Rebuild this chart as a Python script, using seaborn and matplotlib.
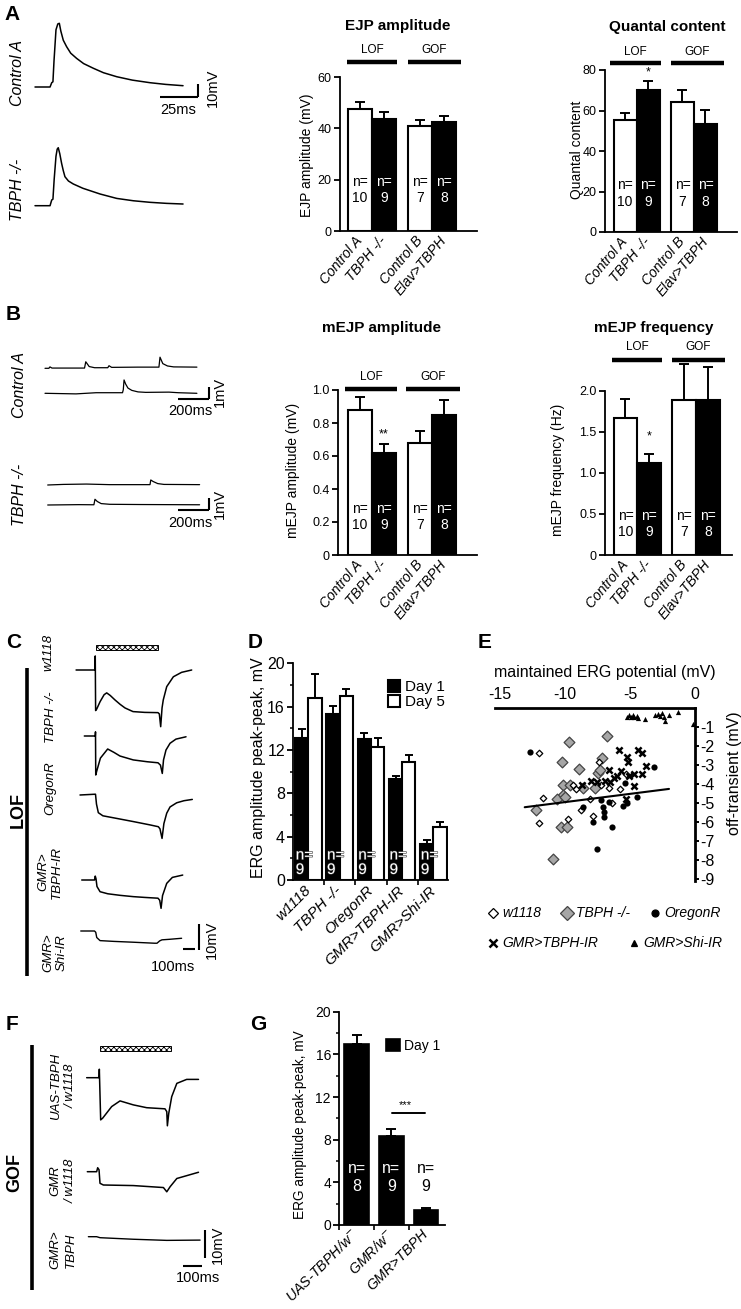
import numpy as np
import pandas as pd
import matplotlib.pyplot as plt
from matplotlib.lines import Line2D
from matplotlib.patches import Rectangle
from matplotlib.ticker import MultipleLocator
import matplotlib.patheffects as pe
import seaborn as sns

W, H = 741, 1309

# ---------------- A: evoked EJP traces (ms, mV) ----------------
ejp_ctrl_t = [0, 9.9, 11, 11.8, 12.5, 13.8, 15, 16, 17, 18.6, 20.8, 23.5, 27.4, 32, 38.4, 45, 53.8, 64, 75.7, 86, 97.4]
ejp_ctrl_v = [0, 0, 3.3, 4, 20, 44, 48.5, 49, 43, 36, 31, 26, 22, 18, 14.4, 11, 7.9, 5.3, 3.3, 2, 1]
ejp_tbph_t = [0, 9.9, 11, 11.8, 12.6, 13.8, 14.6, 15.3, 16.3, 17.5, 18.6, 19.7, 22, 25.2, 31.5, 42.8, 53.8, 64.7, 75.7, 86.5, 97.4]
ejp_tbph_v = [0, 0, 4.4, 5, 20, 38, 43.5, 44.6, 40, 32.6, 27, 22.3, 19, 16.7, 13.4, 9, 5.6, 3.8, 2.6, 1.8, 1.3]

# ---------------- B: spontaneous mEJP traces (ms, mV) ----------------
mejp_ctrl1_t = [0, 25, 32, 45, 255, 263, 285, 320, 405, 413, 430, 600, 735, 742, 760, 790, 830, 980]
mejp_ctrl1_v = [0, 0, 0.12, 0.02, 0.02, 0.56, 0.15, 0.05, 0.05, 0.22, 0.08, 0.1, 0.1, 0.95, 0.4, 0.2, 0.12, 0.1]
mejp_ctrl2_t = [0, 200, 330, 500, 505, 510, 520, 535, 560, 600, 650, 800, 860, 980]
mejp_ctrl2_v = [0, -0.05, 0.05, 0.05, 0.3, 1.14, 0.8, 0.45, 0.25, 0.12, 0.08, 0.1, 0.05, 0]
mejp_tbph1_t = [0, 100, 250, 400, 660, 665, 680, 710, 750, 980]
mejp_tbph1_v = [0, 0.05, 0.08, 0.03, 0.03, 0.43, 0.3, 0.12, 0.05, 0.03]
mejp_tbph2_t = [0, 200, 298, 305, 320, 345, 400, 600, 980]
mejp_tbph2_v = [0, 0.03, 0.02, 0.49, 0.3, 0.12, 0.06, 0.04, 0.02]

# ---------------- A/B bar charts ----------------
genotypes_ab = ["Control A", "TBPH -/-", "Control B", "Elav>TBPH"]
kind_ab = ["ctl", "mut", "ctl", "mut"]
n_ab = [10, 9, 7, 8]
ejp_amp = [47.5, 43.5, 41.0, 42.5]
ejp_sem = [2.8, 2.8, 2.2, 2.5]
quantal = [55.5, 70.0, 64.2, 53.2]
quantal_sem = [3.5, 4.6, 5.8, 7.2]
mejp_amp = [0.88, 0.62, 0.68, 0.85]
mejp_amp_sem = [0.08, 0.05, 0.07, 0.09]
mejp_freq = [1.67, 1.12, 1.89, 1.89]
mejp_freq_sem = [0.23, 0.11, 0.44, 0.40]

# ---------------- C: ERG traces, LOF (ms from light on, mV) ----------------
erg_w1118_t = [-158, -4, -2, 1, 10, 37, 70, 91, 120, 158, 200, 240, 305, 400, 508, 519, 530, 541, 551, 579, 633, 700, 782]
erg_w1118_v = [0, 0, 5.4, -15.6, -15.0, -12.2, -9.5, -8.8, -9.8, -11.5, -13.2, -14.6, -16.0, -16.3, -16.4, -16.9, -21.8, -14.6, -11.5, -6.4, -2.6, -0.9, 0]
erg_tbph_t = [-91, -2, 0, 2, 10, 40, 99, 150, 199, 307, 420, 508, 528, 543, 553, 573, 606, 654, 736]
erg_tbph_v = [0, 0, 1.6, -15.0, -13.5, -8.5, -5.0, -6.3, -7.7, -9.2, -9.9, -10.3, -11.2, -14.4, -9.2, -5.4, -2.8, -1.2, -0.3]
erg_oregon_t = [-126, -4, 0, 8, 23, 60, 172, 305, 443, 511, 524, 541, 556, 579, 606, 660, 719, 787]
erg_oregon_v = [0, 0.3, 0.3, -3.5, -6.8, -8.0, -9.0, -10.2, -11.5, -12.2, -13.0, -16.7, -11.0, -7.0, -4.6, -3.0, -2.2, -1.7]
erg_tbphir_t = [-112, -8, -2, 4, 12, 37, 100, 200, 307, 400, 508, 522, 533, 545, 579, 625, 709]
erg_tbphir_v = [0, 0, 1.5, 0.5, -2.5, -4.5, -5.3, -5.9, -6.4, -6.7, -7.0, -7.8, -10.9, -6.0, -1.3, 1.0, 1.9]
erg_shi_t = [-120, -8, 2, 10, 37, 150, 300, 480, 500, 522, 540, 600, 700]
erg_shi_v = [0, 0, -0.5, -2.5, -3.7, -4.0, -4.3, -4.7, -4.7, -3.8, -3.4, -3.2, -2.8]
light_c_ms = 510

# ---------------- D: ERG amplitudes ----------------
d_genotypes = ["w1118", "TBPH -/-", "OregonR", "GMR>TBPH-IR", "GMR>Shi-IR"]
d_day1 = [13.1, 15.3, 13.0, 9.3, 3.3]
d_day1_sem = [0.8, 0.8, 0.6, 0.3, 0.4]
d_day5 = [16.8, 17.0, 12.3, 10.9, 4.9]
d_day5_sem = [2.2, 0.6, 0.8, 0.6, 0.45]
d_n = [9, 9, 9, 9, 9]

# ---------------- E: off-transient vs maintained potential ----------------
e_w1118_x = [-11.97, -11.72, -12.0, -9.74, -9.36, -9.18, -8.79, -8.08, -7.82, -7.36, -7.26, -6.59, -5.77, -5.31, -6.41]
e_w1118_y = [-2.39, -4.72, -6.06, -5.84, -4.05, -4.28, -5.36, -4.79, -5.66, -2.86, -4.05, -4.19, -4.28, -3.48, -4.98]
e_tbph_x = [-9.67, -6.79, -10.26, -8.92, -7.18, -7.44, -10.13, -9.62, -8.59, -10.13, -10.64, -12.23, -10.33, -9.82, -10.95, -7.31, -7.69, -10.0]
e_tbph_y = [-1.78, -1.47, -2.83, -3.21, -2.65, -3.41, -4.05, -4.05, -4.23, -4.58, -4.79, -5.36, -6.24, -6.27, -7.95, -3.27, -4.23, -4.70]
e_oregon_x = [-12.69, -8.59, -7.87, -7.26, -7.10, -6.97, -7.0, -6.59, -6.36, -7.51, -5.56, -5.26, -4.49, -3.15, -5.38]
e_oregon_y = [-2.31, -5.19, -6.01, -4.84, -5.19, -5.45, -5.71, -4.93, -6.27, -7.41, -5.15, -4.98, -4.70, -3.13, -3.97]
e_tbphir_x = [-5.82, -5.21, -4.36, -4.05, -5.13, -6.59, -5.69, -5.97, -5.05, -4.69, -4.10, -3.77, -8.0, -7.56, -6.92, -6.54, -6.23, -8.72, -4.69, -5.31]
e_tbphir_y = [-2.22, -2.57, -2.22, -2.36, -2.83, -3.27, -3.32, -3.58, -3.58, -3.48, -3.48, -3.06, -3.84, -3.91, -3.83, -3.88, -3.70, -4.05, -4.09, -4.79]
e_shi_x = [-5.26, -5.08, -4.92, -4.79, -4.67, -4.49, -4.36, -3.85, -3.08, -2.87, -2.69, -2.56, -2.38, -2.28, -1.97, -1.28, -0.18]
e_shi_y = [-0.50, -0.38, -0.47, -0.38, -0.50, -0.44, -0.56, -0.61, -0.38, -0.33, -0.44, -0.30, -0.47, -0.68, -0.38, -0.21, -0.85]
e_fit_x = [-13.1, -2.0]
e_fit_y = [-5.22, -4.26]

# ---------------- F: ERG traces, GOF ----------------
erg_uas_t = [-67.7, -5, -3.4, 3.4, 13.5, 59.3, 101.6, 169, 237, 330, 339, 342, 349, 364, 390, 440, 500]
erg_uas_v = [0, 0, 3.0, -14.9, -14.3, -10.2, -8.2, -9.6, -10.6, -11.0, -12.0, -17.0, -12.6, -6.7, -2.0, -0.6, -0.6]
erg_gmrw_t = [-64.4, -17, -11.8, -5, 0, 17, 169, 322, 339, 356, 390, 500]
erg_gmrw_v = [0, 0, 1.4, 0.7, -4.1, -4.7, -4.9, -5.6, -7.1, -5.3, -2.4, -0.2]
erg_gmrtbph_t = [-59, -17, 0, 169, 339, 508]
erg_gmrtbph_v = [0, 0, -0.35, -0.9, -1.3, -1.2]
light_f_ms = 359

# ---------------- G: GOF ERG amplitudes ----------------
g_genotypes = ["UAS-TBPH/w$^{-}$", "GMR/w$^{-}$", "GMR>TBPH"]
g_day1 = [17.0, 8.37, 1.4]
g_sem = [0.8, 0.6, 0.22]
g_n = [8, 9, 9]

# ---------------- style ----------------
sns.set_theme(style="ticks", rc={
    "axes.edgecolor": "black", "axes.labelcolor": "black", "text.color": "black",
    "xtick.color": "black", "ytick.color": "black", "axes.linewidth": 1.3,
})
plt.rcParams["font.family"] = ["Liberation Sans", "DejaVu Sans"]
plt.rcParams["axes.unicode_minus"] = False
plt.rcParams["hatch.linewidth"] = 0.6

fig = plt.figure(figsize=(W / 100, H / 100), dpi=100)


def add_ax(l, t, r, b):
    ax = fig.add_axes([l / W, 1 - b / H, (r - l) / W, (b - t) / H])
    ax.patch.set_alpha(0)
    return ax


def ftext(x, y, s, **kw):
    kw.setdefault("ha", "center")
    kw.setdefault("va", "center")
    fig.text(x / W, 1 - y / H, s, **kw)


def fline(x1, y1, x2, y2, lw=3.2):
    fig.add_artist(Line2D([x1 / W, x2 / W], [1 - y1 / H, 1 - y2 / H],
                          color="black", lw=lw, solid_capstyle="butt"))


def trace(box, origin, scale, t, v, lw=1.0):
    # data (0, 0) sits at pixel `origin`; `scale` is px per ms and px per mV
    l, top, r, b = box
    ox, oy = origin
    sx, sy = scale
    ax = add_ax(l, top, r, b)
    sns.lineplot(x=t, y=v, ax=ax, color="black", linewidth=lw, estimator=None, sort=False)
    for ln in ax.lines:
        ln.set_clip_on(False)
    ax.set_xlim((l - ox) / sx, (r - ox) / sx)
    ax.set_ylim((oy - b) / sy, (oy - top) / sy)
    ax.axis("off")
    return ax


def sbar(ax, xs, ys, lw=1.5):
    ax.plot(xs, ys, color="black", lw=lw, clip_on=False, solid_capstyle="butt")


def stim(ax, dur, y0, h):
    ax.add_patch(Rectangle((0, y0), dur, h, facecolor="white", edgecolor="black",
                           hatch="xxxxxx", lw=0.7, clip_on=False))


POS = [0, 1, 2.5, 3.5]


def bar4(rect, xlim, ylim, yticks, yticklabels, means, sems, n_y):
    ax = add_ax(*rect)
    df = pd.DataFrame({"pos": POS, "value": means, "kind": kind_ab})
    sns.barplot(data=df, x="pos", y="value", hue="kind",
                palette={"ctl": "white", "mut": "black"}, saturation=1,
                native_scale=True, dodge=False, width=1.0, edgecolor="black",
                linewidth=1.5, errorbar=None, legend=False, ax=ax)
    ax.errorbar(POS, means, yerr=[[0] * 4, sems], fmt="none", ecolor="black",
                elinewidth=1.4, capsize=3.5, capthick=1.4, zorder=3, clip_on=False)
    for x, n, k in zip(POS, n_ab, kind_ab):
        ax.text(x, n_y, f"n=\n{n}", ha="center", va="center", fontsize=10,
                color="white" if k == "mut" else "black", linespacing=1.2)
    ax.set_xlim(*xlim)
    ax.set_ylim(*ylim)
    ax.set_yticks(yticks)
    ax.set_yticklabels(yticklabels, fontsize=9)
    ax.set_xticks(POS)
    ax.set_xticklabels(genotypes_ab, rotation=50, ha="right", va="center",
                       rotation_mode="anchor", style="italic", fontsize=10)
    ax.tick_params(axis="x", length=0, pad=5)
    ax.tick_params(axis="y", length=4, width=1.3, pad=2)
    ax.set_xlabel("")
    ax.set_ylabel("")
    sns.despine(ax=ax)
    return ax


def groups(y_text, y_line, lof, gof):
    for (x1, x2), name in ((lof, "LOF"), (gof, "GOF")):
        ftext((x1 + x2) / 2, y_text, name, fontsize=8.5)
        fline(x1, y_line, x2, y_line)


# ================= panel A =================
ftext(12, 15, "A", fontsize=15, fontweight="bold")
ftext(18, 73, "Control A", rotation=90, style="italic", fontsize=11.5)
ftext(18, 190, "TBPH -/-", rotation=90, style="italic", fontsize=11.5)
ax = trace((25, 10, 240, 125), (35, 87), (1.52, 1.3), ejp_ctrl_t, ejp_ctrl_v, lw=1.1)
sbar(ax, [82.2, 107.2], [-7.7, -7.7])
sbar(ax, [107.2, 107.2], [-7.7, 2.3])
ftext(178, 110, "25ms", fontsize=10.5)
ftext(213, 88, "10mV", rotation=90, fontsize=10.5)
trace((25, 130, 240, 240), (35, 205.7), (1.52, 1.3), ejp_tbph_t, ejp_tbph_v, lw=1.1)

bar4((340, 77, 477, 231), (-0.83, 4.875), (0, 60), [0, 20, 40, 60], ["0", "20", "40", "60"],
     ejp_amp, ejp_sem, 16)
ftext(398, 26, "EJP amplitude", fontsize=11, fontweight="bold")
ftext(307, 155, "EJP amplitude (mV)", rotation=90, fontsize=10)
groups(50, 62, (347, 397), (408, 461))

ax = bar4((605, 70, 737, 232), (-0.87, 4.87), (0, 80), [0, 20, 40, 60, 80],
          ["0", "20", "40", "60", "80"], quantal, quantal_sem, 19)
ax.text(1, 79, "*", ha="center", va="center", fontsize=9)
ftext(667, 27, "Quantal content", fontsize=11, fontweight="bold")
ftext(577, 150, "Quantal content", rotation=90, fontsize=10)
groups(52, 63, (610, 661), (671, 724))

# ================= panel B =================
ftext(13, 315, "B", fontsize=15, fontweight="bold")
ftext(20, 385, "Control A", rotation=90, style="italic", fontsize=11.5)
ftext(20, 495, "TBPH -/-", rotation=90, style="italic", fontsize=11.5)
trace((40, 340, 240, 380), (45, 368.3), (0.155, 11.7), mejp_ctrl1_t, mejp_ctrl1_v, lw=0.9)
ax = trace((40, 380, 240, 410), (45, 393.3), (0.155, 11.7), mejp_ctrl2_t, mejp_ctrl2_v, lw=0.9)
sbar(ax, [858, 1058], [-0.48, -0.48])
sbar(ax, [1058, 1058], [-0.48, 0.52])
ftext(190, 411, "200ms", fontsize=10.5)
ftext(220, 392, "1mV", rotation=90, fontsize=10.5)
trace((40, 460, 240, 495), (47.7, 485), (0.155, 11.7), mejp_tbph1_t, mejp_tbph1_v, lw=0.9)
ax = trace((40, 495, 240, 520), (47.7, 505), (0.155, 11.7), mejp_tbph2_t, mejp_tbph2_v, lw=0.9)
sbar(ax, [841, 1041], [-0.43, -0.43])
sbar(ax, [1041, 1041], [-0.43, 0.57])
ftext(190, 523, "200ms", fontsize=10.5)
ftext(220, 504, "1mV", rotation=90, fontsize=10.5)

ax = bar4((338, 390, 477, 555), (-0.92, 4.87), (0, 1.0), [0, 0.2, 0.4, 0.6, 0.8, 1.0],
          ["0", "0.2", "0.4", "0.6", "0.8", "1.0"], mejp_amp, mejp_amp_sem, 0.23)
ax.text(1, 0.73, "**", ha="center", va="center", fontsize=9)
ftext(382, 328, "mEJP amplitude", fontsize=11, fontweight="bold")
ftext(293, 470, "mEJP amplitude (mV)", rotation=90, fontsize=10)
groups(377, 389, (345, 397), (406, 460))

ax = bar4((605, 358, 732, 555), (-0.87, 4.53), (0, 2.4), [0, 0.5, 1.0, 1.5, 2.0],
          ["0", "0.5", "1.0", "1.5", "2.0"], mejp_freq, mejp_freq_sem, 0.38)
ax.spines["left"].set_bounds(0, 2.0)
ax.text(1, 1.44, "*", ha="center", va="center", fontsize=9)
ftext(654, 328, "mEJP frequency", fontsize=11, fontweight="bold")
ftext(558, 470, "mEJP frequency (Hz)", rotation=90, fontsize=10)
groups(347, 360, (612, 662), (672, 725))

# ================= panel C =================
ftext(14, 643, "C", fontsize=15, fontweight="bold")
ftext(18, 810, "LOF", rotation=90, fontsize=13, fontweight="bold")
fline(27, 668, 27, 976, lw=2.6)
c_scale = (0.123, 2.6)
ax = trace((70, 640, 230, 735), (95.5, 670), c_scale, erg_w1118_t, erg_w1118_v, lw=1.1)
stim(ax, light_c_ms, 7.7, 1.9)
trace((70, 705, 230, 790), (95.5, 736), c_scale, erg_tbph_t, erg_tbph_v, lw=1.1)
trace((70, 770, 230, 850), (95.5, 795), c_scale, erg_oregon_t, erg_oregon_v, lw=1.1)
trace((70, 860, 230, 920), (95.5, 880), c_scale, erg_tbphir_t, erg_tbphir_v, lw=1.1)
ax = trace((70, 915, 230, 960), (95.5, 931), c_scale, erg_shi_t, erg_shi_v, lw=1.0)
sbar(ax, [709, 809], [-6.9, -6.9])
sbar(ax, [841, 841], [-7.3, 2.7])
ftext(173, 967, "100ms", fontsize=10.5)
ftext(212, 940, "10mV", rotation=90, fontsize=10.5)
c_labels = [("w1118", 48, 652), ("TBPH -/-", 51, 717), ("OregonR", 50, 788),
            ("GMR>\nTBPH-IR", 50, 872), ("GMR>\nShi-IR", 55, 953)]
for s, x, y in c_labels:
    ftext(x, y, s, rotation=90, style="italic", fontsize=9.5, linespacing=1.15,
          multialignment="center")

# ================= panel D =================
ftext(255, 643, "D", fontsize=15, fontweight="bold")
ax = add_ax(293.3, 663.3, 447.5, 880)
d_df = pd.DataFrame({
    "genotype": d_genotypes * 2,
    "day": ["Day 1"] * 5 + ["Day 5"] * 5,
    "amp": d_day1 + d_day5,
})
sns.barplot(data=d_df, x="genotype", y="amp", hue="day", order=d_genotypes,
            hue_order=["Day 1", "Day 5"], palette={"Day 1": "black", "Day 5": "white"},
            saturation=1, width=0.85, gap=0, edgecolor="black", linewidth=1.5,
            errorbar=None, ax=ax)
for cont, sems in zip(ax.containers[:2], [d_day1_sem, d_day5_sem]):
    xs = [p.get_x() + p.get_width() / 2 for p in cont]
    hs = [p.get_height() for p in cont]
    ax.errorbar(xs, hs, yerr=[[0] * len(sems), sems], fmt="none", ecolor="black",
                elinewidth=1.4, capsize=3, capthick=1.4, zorder=3)
    if cont is ax.containers[0]:
        for x, n in zip(xs, d_n):
            ax.text(x - 0.19, 1.6, f"n=\n{n}", ha="left", va="center", color="white",
                    fontsize=11, linespacing=1.05,
                    path_effects=[pe.withStroke(linewidth=0.8, foreground="#333333")])
handles, labels = ax.get_legend_handles_labels()
ax.legend(handles, labels, frameon=False, loc="upper left", fontsize=11,
          bbox_to_anchor=(388 / W, 1 - 680 / H), bbox_transform=fig.transFigure,
          handlelength=0.8, handleheight=0.8, handletextpad=0.3, labelspacing=0.05,
          borderpad=0, borderaxespad=0)
ax.set_xlim(-0.48, 4.45)
ax.set_ylim(0, 20)
ax.set_yticks([0, 4, 8, 12, 16, 20])
ax.yaxis.set_minor_locator(MultipleLocator(2))
ax.set_xticks([0.5, 1.5, 2.5, 3.5], minor=True)
ax.set_xticks(range(5))
ax.set_xticklabels(d_genotypes, rotation=45, ha="right", va="center",
                   rotation_mode="anchor", style="italic", fontsize=11)
ax.tick_params(axis="y", labelsize=11.5, length=4, width=1.3, pad=2)
ax.tick_params(axis="y", which="minor", length=2.5, width=1.1)
ax.tick_params(axis="x", length=0, pad=6)
ax.tick_params(axis="x", which="minor", length=3.5, width=1.2)
ax.set_xlabel("")
ax.set_ylabel("")
sns.despine(ax=ax)
ftext(259, 768, "ERG amplitude peak-peak, mV", rotation=90, fontsize=11.5)

# ================= panel E =================
ftext(485, 643, "E", fontsize=15, fontweight="bold")
ax = add_ax(494.8, 707.7, 695, 881.2)
sns.scatterplot(x=e_tbph_x, y=e_tbph_y, marker="D", s=30, color="#a6a6a6",
                edgecolor="#444444", linewidth=0.9, ax=ax)
sns.scatterplot(x=e_w1118_x, y=e_w1118_y, marker="D", s=11, color="white",
                edgecolor="black", linewidth=0.9, ax=ax)
sns.scatterplot(x=e_oregon_x, y=e_oregon_y, marker="o", s=20, color="black",
                edgecolor="black", linewidth=0, ax=ax)
sns.scatterplot(x=e_tbphir_x, y=e_tbphir_y, marker="x", s=20, color="black",
                linewidth=1.8, ax=ax)
sns.scatterplot(x=e_shi_x, y=e_shi_y, marker="^", s=14, color="black", linewidth=0, ax=ax)
sns.lineplot(x=e_fit_x, y=e_fit_y, color="black", linewidth=1.5, ax=ax)
ax.set_xlim(-15.4, 0)
ax.set_ylim(-9.1, 0)
ax.xaxis.tick_top()
ax.yaxis.tick_right()
ax.set_xticks([-15, -10, -5, 0])
ax.set_xticklabels(["-15", "-10", "-5", "0"], fontsize=11.5)
ax.set_yticks(range(-9, 0))
ax.set_yticklabels([str(v) for v in range(-9, 0)], fontsize=11.5)
ax.tick_params(axis="x", length=0, pad=4)
ax.tick_params(axis="y", length=3, width=1.4, pad=1)
for side in ("left", "bottom"):
    ax.spines[side].set_visible(False)
for side in ("top", "right"):
    ax.spines[side].set_linewidth(2.0)
ax.set_xlabel("")
ax.set_ylabel("")
ftext(605, 673, "maintained ERG potential (mV)", fontsize=11.5)
ftext(735, 773, "off-transient (mV)", rotation=90, fontsize=11.5)
e_keys = [("D", 5, "white", "black", "w1118", 493, 913),
          ("D", 7.5, "#a6a6a6", "#444444", "TBPH -/-", 567, 913),
          ("o", 5, "black", "black", "OregonR", 655, 913),
          ("x", 6, "black", "black", "GMR>TBPH-IR", 493, 943),
          ("^", 5, "black", "black", "GMR>Shi-IR", 634, 943)]
for m, ms, fc, ec, lab, x, y in e_keys:
    fig.add_artist(Line2D([x / W], [1 - y / H], marker=m, markersize=ms, linestyle="none",
                          markerfacecolor=fc, markeredgecolor=ec,
                          markeredgewidth=1.8 if m == "x" else 0.9))
    ftext(x + 9, y, lab, ha="left", style="italic", fontsize=10)

# ================= panel F =================
ftext(12, 1025, "F", fontsize=15, fontweight="bold")
ftext(15, 1172, "GOF", rotation=90, fontsize=13, fontweight="bold")
fline(32.3, 1045, 32.3, 1290, lw=2.6)
f_scale = (0.197, 2.83)
ax = trace((80, 1040, 230, 1140), (100, 1077.7), f_scale, erg_uas_t, erg_uas_v, lw=1.1)
stim(ax, light_f_ms, 9.4, 1.9)
trace((80, 1150, 230, 1210), (100, 1171.7), f_scale, erg_gmrw_t, erg_gmrw_v, lw=1.1)
ax = trace((80, 1220, 230, 1270), (100, 1236.7), f_scale, erg_gmrtbph_t, erg_gmrtbph_v, lw=1.0)
sbar(ax, [420, 520], [-10.2, -10.2])
sbar(ax, [533, 533], [-7.6, 2.4])
ftext(198, 1278, "100ms", fontsize=10.5)
ftext(218, 1245, "10mV", rotation=90, fontsize=10.5)
f_labels = [("UAS-TBPH\n/ w1118", 63, 1086), ("GMR\n/ w1118", 63, 1181), ("GMR>\nTBPH", 63, 1250)]
for s, x, y in f_labels:
    ftext(x, y, s, rotation=90, style="italic", fontsize=9.5, linespacing=1.3,
          multialignment="center")

# ================= panel G =================
ftext(258, 1025, "G", fontsize=15, fontweight="bold")
ax = add_ax(339.3, 1011.7, 445, 1225)
g_df = pd.DataFrame({"genotype": g_genotypes, "amp": g_day1, "day": ["Day 1"] * 3})
sns.barplot(data=g_df, x="genotype", y="amp", hue="day", palette={"Day 1": "black"},
            saturation=1, width=0.71, dodge=False, edgecolor="black", linewidth=1.2,
            errorbar=None, ax=ax)
ax.errorbar(range(3), g_day1, yerr=[[0] * 3, g_sem], fmt="none", ecolor="black",
            elinewidth=1.4, capsize=3.5, capthick=1.4, zorder=3)
for i, n in enumerate(g_n):
    ax.text(i, 4.45, f"n=\n{n}", ha="center", va="center", fontsize=11.5,
            color="white" if g_day1[i] > 6 else "black", linespacing=1.2)
ax.plot([1.03, 1.96], [10.5, 10.5], color="black", lw=1.4)
ax.text(1.41, 11.2, "***", ha="center", va="center", fontsize=8)
handles, labels = ax.get_legend_handles_labels()
ax.legend(handles, labels, frameon=False, loc="upper left", fontsize=10,
          bbox_to_anchor=(386 / W, 1 - 1039 / H), bbox_transform=fig.transFigure,
          handlelength=1.0, handleheight=1.0, handletextpad=0.3,
          borderpad=0, borderaxespad=0)
ax.set_xlim(-0.47, 2.55)
ax.set_ylim(0, 20)
ax.set_yticks([0, 4, 8, 12, 16, 20])
ax.yaxis.set_minor_locator(MultipleLocator(2))
ax.set_xticks([-0.5, 0.5, 1.5], minor=True)
ax.set_xticks(range(3))
ax.set_xticklabels(g_genotypes, rotation=45, ha="right", va="center",
                   rotation_mode="anchor", style="italic", fontsize=10.3)
ax.tick_params(axis="y", labelsize=10, length=4, width=1.3, pad=2)
ax.tick_params(axis="y", which="minor", length=2.5, width=1.1)
ax.tick_params(axis="x", length=0, pad=5)
ax.tick_params(axis="x", which="minor", length=3.5, width=1.2)
ax.set_xlabel("")
ax.set_ylabel("")
sns.despine(ax=ax)
ftext(300, 1125, "ERG amplitude peak-peak, mV", rotation=90, fontsize=9.8)

fig.savefig("out.png", dpi=100, facecolor="white")
